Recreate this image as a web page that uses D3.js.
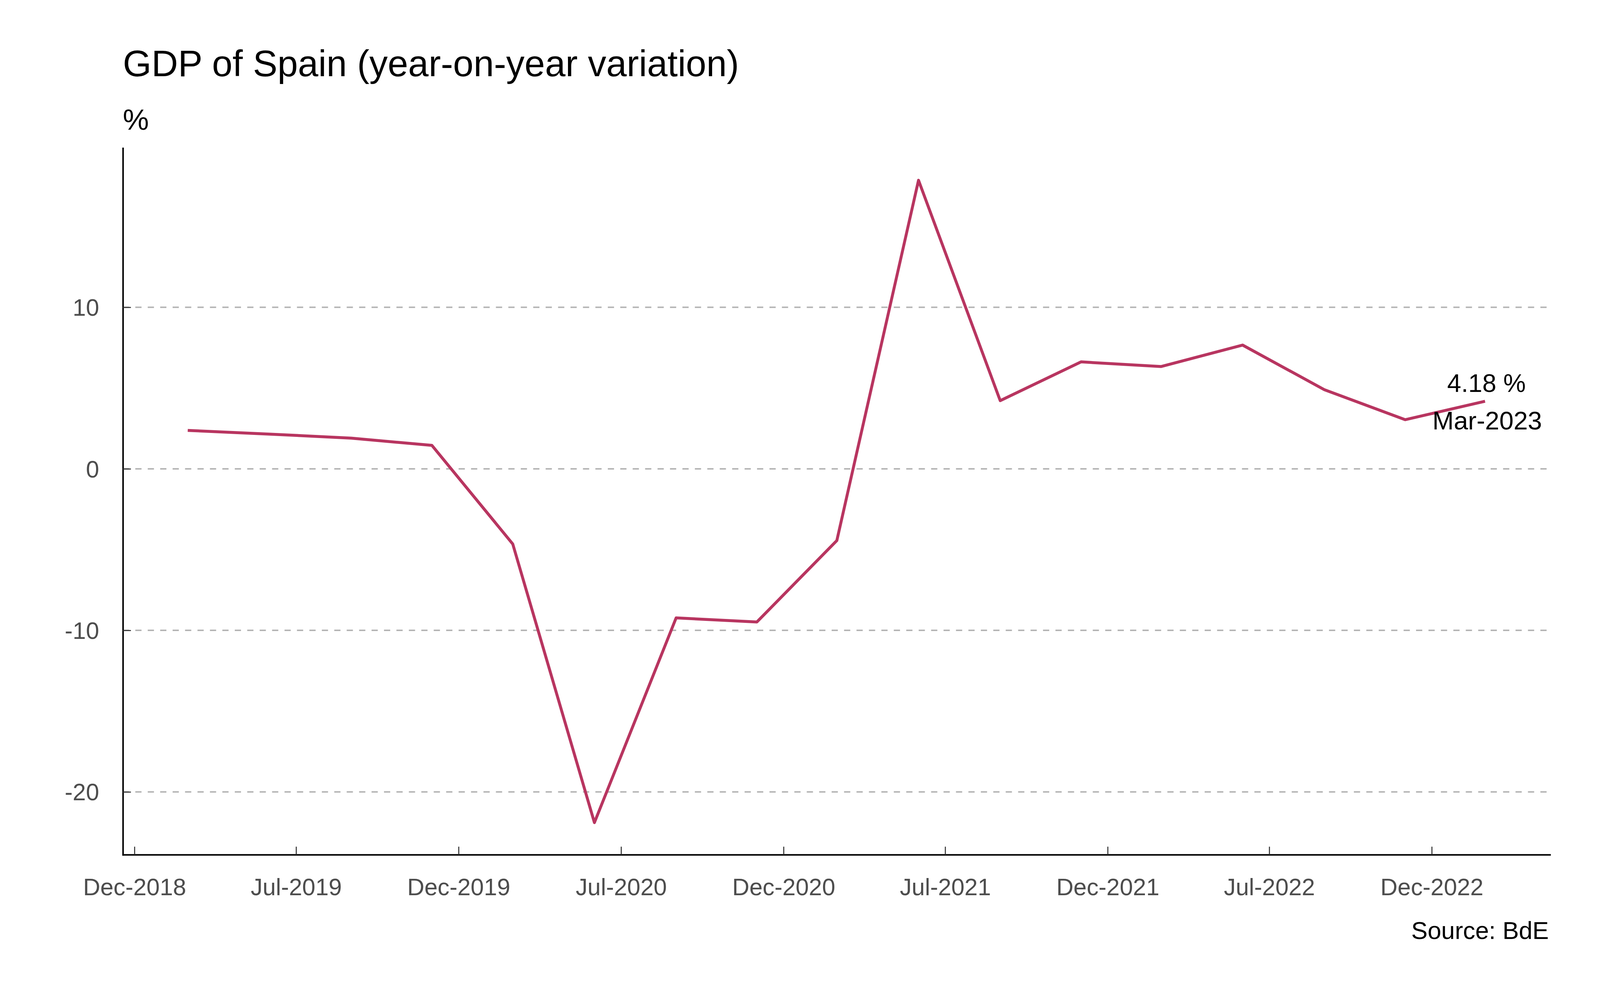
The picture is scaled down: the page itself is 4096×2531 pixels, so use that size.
<!DOCTYPE html>
<html>
<head>
<meta charset="utf-8">
<script src="https://cdn.jsdelivr.net/npm/d3@7"></script>
<style>
  html, body { margin: 0; padding: 0; background: #ffffff; }
  svg { display: block; font-family: "Liberation Sans", Arial, sans-serif; }
</style>
</head>
<body>
<div id="chart"></div>
<script>

// Data (quarterly)
const quarters = ["2019-03-01", "2019-06-01", "2019-09-01", "2019-12-01",
                  "2020-03-01", "2020-06-01", "2020-09-01", "2020-12-01",
                  "2021-03-01", "2021-06-01", "2021-09-01", "2021-12-01",
                  "2022-03-01", "2022-06-01", "2022-09-01", "2022-12-01",
                  "2023-03-01"];
const gdpGrowth = [2.38, 2.15, 1.9, 1.45,
                   -4.65, -21.9, -9.23, -9.48,
                   -4.44, 17.86, 4.22, 6.62,
                   6.33, 7.66, 4.9, 3.04,
                   4.18];
const xTickDates = ["2018-12-31", "2019-07-01", "2019-12-31", "2020-07-01",
                    "2020-12-31", "2021-07-01", "2021-12-31", "2022-07-01",
                    "2022-12-31"];
const yTickValues = [-20, -10, 0, 10];

const titleText = "GDP of Spain (year-on-year variation)";
const unitText = "%";
const sourceText = "Source: BdE";

/* CONSTANTS */

// drawn in reference units, the viewBox scales it down to the window
let refWidth = 4375
let refHeight = 2703
let outWidth = 4096
let outHeight = 2531

let plotLeft = 336
let plotRight = 4238
let plotTop = 405
let plotBottom = 2336

let lineColor = "#b83560"
let parseDate = d3.utcParse("%Y-%m-%d")
let fmtDate = d3.utcFormat("%b-%Y")

let data = quarters.map((q, i) => ({ date: parseDate(q), value: gdpGrowth[i] }))
let tickDates = xTickDates.map(parseDate)

/* SCALES */

// 5% padding on each side, like the original
let xExt = d3.extent(data, d => d.date)
let xPad = (xExt[1] - xExt[0]) * 0.05
let x = d3.scaleUtc()
    .domain([new Date(+xExt[0] - xPad), new Date(+xExt[1] + xPad)])
    .range([plotLeft, plotRight])

let yExt = d3.extent(data, d => d.value)
let yPad = (yExt[1] - yExt[0]) * 0.05
let y = d3.scaleLinear()
    .domain([yExt[0] - yPad, yExt[1] + yPad])
    .range([plotBottom, plotTop])

/* SVG */

let svg = d3.select("#chart")
    .append("svg")
    .attr("width", outWidth)
    .attr("height", outHeight)
    .attr("viewBox", `0 0 ${refWidth} ${refHeight}`)
    .attr("preserveAspectRatio", "none")

svg.append("rect")
    .attr("width", refWidth)
    .attr("height", refHeight)
    .attr("fill", "#ffffff")

// Gridlines
svg.append("g")
    .selectAll("line")
    .data(yTickValues)
    .join("line")
    .attr("x1", plotLeft)
    .attr("x2", plotRight)
    .attr("y1", d => y(d))
    .attr("y2", d => y(d))
    .attr("stroke", "#b3b3b3")
    .attr("stroke-width", 4)
    .attr("stroke-dasharray", "17,17")

// Line
let line = d3.line()
    .x(d => x(d.date))
    .y(d => y(d.value))

svg.append("path")
    .datum(data)
    .attr("d", line)
    .attr("fill", "none")
    .attr("stroke", lineColor)
    .attr("stroke-width", 8)
    .attr("stroke-linejoin", "round")

// Axes (ticks point inward)
let xAxis = svg.append("g")
    .attr("transform", `translate(0,${plotBottom})`)
    .call(d3.axisBottom(x)
        .tickValues(tickDates)
        .tickFormat(fmtDate)
        .tickSizeInner(-22)
        .tickSizeOuter(0)
        .tickPadding(65))

// plain hyphen for negatives, as in the original
let yAxis = svg.append("g")
    .attr("transform", `translate(${plotLeft},0)`)
    .call(d3.axisLeft(y)
        .tickValues(yTickValues)
        .tickFormat(d => String(d))
        .tickSizeInner(-22)
        .tickSizeOuter(0)
        .tickPadding(65))

yAxis.selectAll("text").attr("dy", "0.35em")

for (let ax of [xAxis, yAxis]) {
    ax.select(".domain")
        .attr("stroke", "#000000")
        .attr("stroke-width", 4.2)
        .attr("stroke-linecap", "square")
    ax.selectAll(".tick line")
        .attr("stroke", "#333333")
        .attr("stroke-width", 2.8)
    ax.selectAll(".tick text")
        .attr("fill", "#4d4d4d")
        .attr("font-size", 65)
        .attr("font-family", "Liberation Sans, Arial, sans-serif")
}

// Last value label
let last = data[data.length - 1]
svg.append("text")
    .attr("x", x(last.date) + 4)
    .attr("y", y(last.value) - 26)
    .attr("text-anchor", "middle")
    .attr("font-size", 69)
    .attr("fill", "#000000")
    .text(d3.format(".2f")(last.value) + " %")

svg.append("text")
    .attr("x", x(last.date) + 6)
    .attr("y", y(last.value) + 77)
    .attr("text-anchor", "middle")
    .attr("font-size", 70)
    .attr("fill", "#000000")
    .text(d3.utcFormat("%b-%Y")(last.date))

// Title, unit, source
svg.append("text")
    .attr("x", plotLeft)
    .attr("y", 208)
    .attr("font-size", 100.5)
    .attr("fill", "#000000")
    .text(titleText)

svg.append("text")
    .attr("x", plotLeft)
    .attr("y", 355)
    .attr("font-size", 80)
    .attr("fill", "#000000")
    .text(unitText)

svg.append("text")
    .attr("x", plotRight - 3)
    .attr("y", 2566)
    .attr("text-anchor", "end")
    .attr("font-size", 67)
    .attr("fill", "#000000")
    .text(sourceText)

</script>
</body>
</html>
